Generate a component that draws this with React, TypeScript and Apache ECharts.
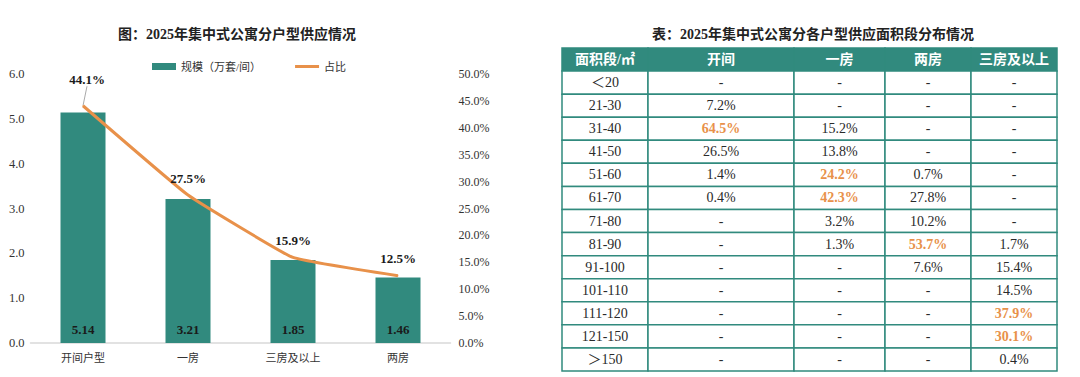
import React, { useEffect, useRef } from 'react';
import * as echarts from 'echarts';

// ---- Left chart data ----
const categories = ['开间户型', '一房', '三房及以上', '两房'];
const scaleValues = [5.14, 3.21, 1.85, 1.46];
const shareValues = [44.1, 27.5, 15.9, 12.5];

// ---- Right table data ----
const tableHeader = ['面积段/㎡', '开间', '一房', '两房', '三房及以上'];
const areaBands = ['＜20', '21-30', '31-40', '41-50', '51-60', '61-70', '71-80', '81-90', '91-100', '101-110', '111-120', '121-150', '＞150'];
const studioShare = [null, 7.2, 64.5, 26.5, 1.4, 0.4, null, null, null, null, null, null, null];
const oneRoomShare = [null, null, 15.2, 13.8, 24.2, 42.3, 3.2, 1.3, null, null, null, null, null];
const twoRoomShare = [null, null, null, null, 0.7, 27.8, 10.2, 53.7, 7.6, null, null, null, null];
const threePlusShare = [null, null, null, null, null, null, null, 1.7, 15.4, 14.5, 37.9, 30.1, 0.4];
// highlighted cells: [column, bandIndex]
const highlights = [[1, 2], [2, 4], [2, 5], [3, 7], [4, 10], [4, 11]];

// layout (relative column widths of the table)
const colWeights = [86, 146, 91, 86, 86];

const TEAL = '#318a7e';
const ORANGE = '#e8914a';
const FONT = '"Liberation Serif", "Noto Sans CJK SC", serif';

export default function App() {
  const ref = useRef<HTMLDivElement>(null);

  useEffect(() => {
    if (!ref.current) return;
    const chart = echarts.init(ref.current, null, { renderer: 'svg' });

    const colStarts: number[] = [];
    colWeights.reduce((acc, w) => { colStarts.push(acc); return acc + w; }, 0);
    const totalW = colWeights.reduce((a, b) => a + b, 0);

    const columns = [studioShare, oneRoomShare, twoRoomShare, threePlusShare];
    type Cell = { col: number; row: number; text: string; header: boolean; hi: boolean };
    const cells: Cell[] = [];
    tableHeader.forEach((t, c) => cells.push({ col: c, row: 0, text: t, header: true, hi: false }));
    areaBands.forEach((band, r) => {
      cells.push({ col: 0, row: r + 1, text: band, header: false, hi: false });
      columns.forEach((arr, ci) => {
        const v = arr[r];
        const hi = highlights.some(([hc, hr]) => hc === ci + 1 && hr === r);
        cells.push({ col: ci + 1, row: r + 1, text: v == null ? '-' : v.toFixed(1) + '%', header: false, hi });
      });
    });
    const rowKeys = ['header', ...areaBands];

    const lineData = shareValues.map((v, i) =>
      i === 0 ? { value: v, labelLine: { show: true } } : { value: v }
    );

    const option: any = {
      animation: false,
      textStyle: { fontFamily: FONT },
      title: [
        {
          text: '图：2025年集中式公寓分户型供应情况',
          left: 232, top: 22, textAlign: 'center',
          textStyle: { fontSize: 14, fontWeight: 'bold', color: '#222', fontFamily: FONT },
        },
        {
          text: '表：2025年集中式公寓分各户型供应面积段分布情况',
          left: 808, top: 22, textAlign: 'center',
          textStyle: { fontSize: 14, fontWeight: 'bold', color: '#222', fontFamily: FONT },
        },
      ],
      legend: {
        left: 147, top: 56,
        itemGap: 34, itemWidth: 24, itemHeight: 7,
        textStyle: { fontSize: 11, color: '#333', fontFamily: FONT },
        data: [
          { name: '规模（万套/间）', icon: 'rect' },
          { name: '占比', icon: 'path://M0,0 L24,0 L24,3 L0,3 Z', itemStyle: { color: ORANGE } },
        ],
      },
      grid: [
        { left: 30.5, right: 1080 - 450.5, top: 74, bottom: 34 },
        { left: 562, width: 495, top: 48, height: 323 },
      ],
      xAxis: [
        {
          type: 'category', gridIndex: 0, data: categories,
          axisLine: { lineStyle: { color: '#d9d9d9', width: 1.5 } },
          axisTick: { show: false },
          axisLabel: { fontSize: 11, color: '#333', margin: 9, fontFamily: FONT },
        },
        { type: 'value', gridIndex: 1, min: 0, max: totalW, show: false },
      ],
      yAxis: [
        {
          type: 'value', gridIndex: 0, min: 0, max: 6, interval: 1,
          splitLine: { show: false }, axisLine: { show: false }, axisTick: { show: false },
          axisLabel: { fontSize: 12.5, color: '#333', margin: 6, formatter: (v: number) => v.toFixed(1), fontFamily: FONT },
        },
        {
          type: 'value', gridIndex: 0, min: 0, max: 50, interval: 5, position: 'right',
          splitLine: { show: false }, axisLine: { show: false }, axisTick: { show: false },
          axisLabel: { fontSize: 12, color: '#333', margin: 8, formatter: (v: number) => v.toFixed(1) + '%', fontFamily: FONT },
        },
        { type: 'category', gridIndex: 1, data: rowKeys, inverse: true, show: false },
      ],
      series: [
        {
          name: '规模（万套/间）', type: 'bar', xAxisIndex: 0, yAxisIndex: 0,
          data: scaleValues, barWidth: 45,
          itemStyle: { color: TEAL },
          label: {
            show: true, position: 'insideBottom', distance: 7,
            fontSize: 13, fontWeight: 'bold', color: '#1a1a1a', fontFamily: FONT,
            formatter: (p: any) => p.value.toFixed(2),
          },
        },
        {
          name: '占比', type: 'line', xAxisIndex: 0, yAxisIndex: 1,
          data: lineData, smooth: 0.1,
          symbol: 'circle', symbolSize: 1, showSymbol: true,
          lineStyle: { color: ORANGE, width: 3 },
          itemStyle: { color: ORANGE },
          label: {
            show: true, position: 'top', distance: 10,
            fontSize: 13, fontWeight: 'bold', color: '#1a1a1a', fontFamily: FONT,
            formatter: (p: any) => p.value.toFixed(1) + '%',
          },
          labelLine: { show: false, lineStyle: { color: '#aaa', width: 1 } },
          labelLayout: (p: any) => (p.dataIndex === 0 ? { dx: 4, dy: -9 } : {}),
          z: 5,
        },
        {
          type: 'custom', xAxisIndex: 1, yAxisIndex: 2,
          data: cells.map((c) => [c.col, c.row]),
          clip: false,
          renderItem: (params: any, api: any) => {
            const cell = cells[params.dataIndex];
            const x0 = colStarts[cell.col];
            const x1 = x0 + colWeights[cell.col];
            const p0 = api.coord([x0, cell.row]);
            const p1 = api.coord([x1, cell.row]);
            const h = api.size([0, 1])[1];
            const w = p1[0] - p0[0];
            return {
              type: 'group',
              children: [
                {
                  type: 'rect',
                  shape: { x: p0[0], y: p0[1] - h / 2, width: w, height: h },
                  style: { fill: cell.header ? TEAL : '#fff', stroke: TEAL, lineWidth: 1.5 },
                },
                {
                  type: 'text',
                  style: {
                    text: cell.text,
                    x: p0[0] + w / 2, y: p0[1],
                    align: 'center', verticalAlign: 'middle',
                    textAlign: 'center', textVerticalAlign: 'middle',
                    fill: cell.header ? '#fff' : cell.hi ? ORANGE : '#2a2a2a',
                    fontSize: 14,
                    fontWeight: cell.header || cell.hi ? 'bold' : 'normal',
                    fontFamily: FONT,
                  },
                },
              ],
            };
          },
        },
      ],
    };

    chart.setOption(option);
    return () => chart.dispose();
  }, []);

  return <div ref={ref} style={{ width: 1080, height: 377, position: 'absolute', left: 0, top: 0, background: '#fff' }} />;
}
